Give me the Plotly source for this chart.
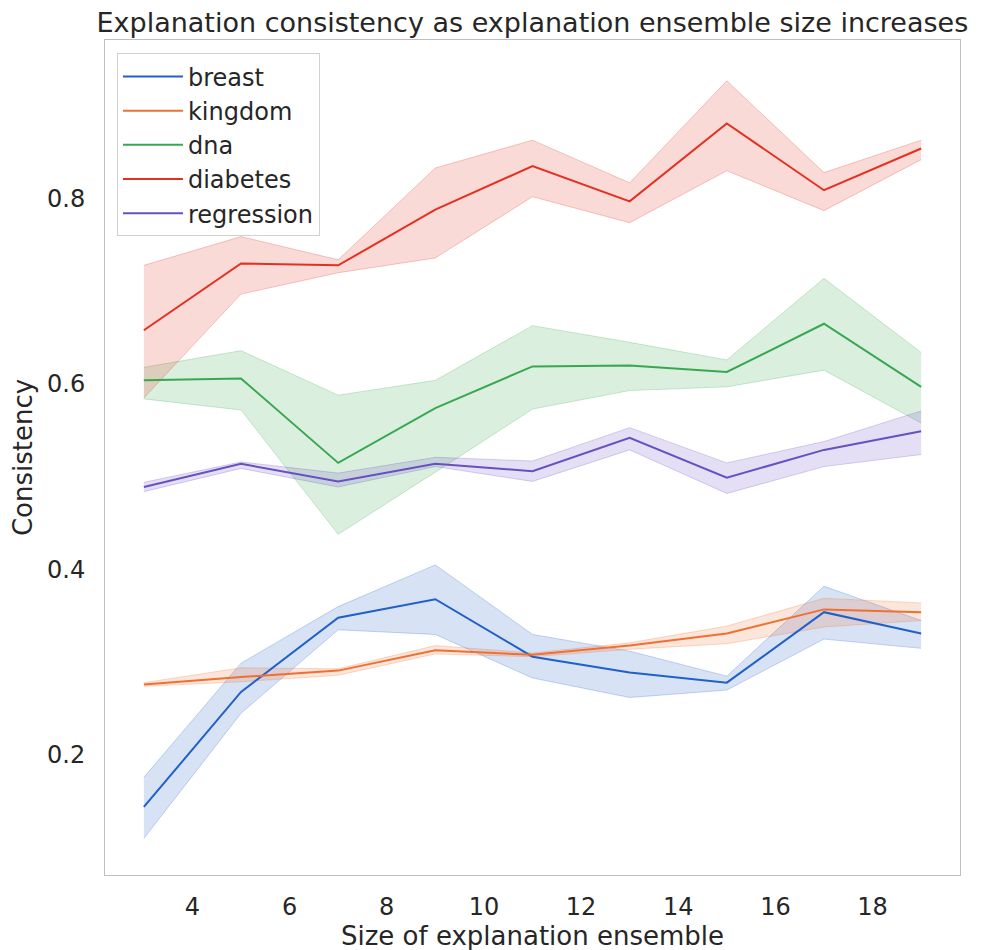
import plotly.graph_objects as go

sizes = [3, 5, 7, 9, 11, 13, 15, 17, 19]

breast_mean = [0.144, 0.268, 0.348, 0.368, 0.306, 0.289, 0.278, 0.354, 0.331]
breast_low = [0.110, 0.245, 0.335, 0.330, 0.283, 0.262, 0.270, 0.325, 0.315]
breast_high = [0.176, 0.299, 0.360, 0.405, 0.330, 0.312, 0.285, 0.382, 0.345]

kingdom_mean = [0.276, 0.284, 0.291, 0.313, 0.308, 0.318, 0.331, 0.357, 0.354]
kingdom_low = [0.274, 0.279, 0.286, 0.309, 0.306, 0.314, 0.320, 0.338, 0.345]
kingdom_high = [0.278, 0.294, 0.293, 0.318, 0.310, 0.321, 0.339, 0.369, 0.364]

dna_mean = [0.604, 0.606, 0.515, 0.574, 0.619, 0.620, 0.613, 0.665, 0.597]
dna_low = [0.584, 0.572, 0.438, 0.505, 0.573, 0.593, 0.597, 0.615, 0.558]
dna_high = [0.618, 0.636, 0.588, 0.604, 0.663, 0.645, 0.626, 0.714, 0.634]

diabetes_mean = [0.658, 0.730, 0.728, 0.788, 0.835, 0.797, 0.881, 0.809, 0.854]
diabetes_low = [0.585, 0.697, 0.720, 0.736, 0.802, 0.774, 0.830, 0.787, 0.842]
diabetes_high = [0.728, 0.759, 0.734, 0.833, 0.863, 0.817, 0.927, 0.828, 0.863]

regression_mean = [0.489, 0.514, 0.495, 0.514, 0.506, 0.542, 0.499, 0.529, 0.549]
regression_low = [0.484, 0.509, 0.489, 0.511, 0.495, 0.529, 0.482, 0.511, 0.524]
regression_high = [0.494, 0.516, 0.504, 0.521, 0.517, 0.553, 0.515, 0.538, 0.571]

series = [
    ("breast", breast_mean, breast_low, breast_high, (32, 96, 200)),
    ("kingdom", kingdom_mean, kingdom_low, kingdom_high, (240, 112, 48)),
    ("dna", dna_mean, dna_low, dna_high, (56, 168, 80)),
    ("diabetes", diabetes_mean, diabetes_low, diabetes_high, (228, 48, 32)),
    ("regression", regression_mean, regression_low, regression_high, (104, 80, 192)),
]

fig = go.Figure()
for name, mean, low, high, (r, g, b) in series:
    fig.add_trace(go.Scatter(x=sizes, y=high, mode="lines",
                             line=dict(color=f"rgba({r},{g},{b},0.25)", width=1),
                             showlegend=False, hoverinfo="skip"))
    fig.add_trace(go.Scatter(x=sizes, y=low, mode="lines", fill="tonexty",
                             fillcolor=f"rgba({r},{g},{b},0.18)",
                             line=dict(color=f"rgba({r},{g},{b},0.25)", width=1),
                             showlegend=False, hoverinfo="skip"))
for name, mean, low, high, (r, g, b) in series:
    fig.add_trace(go.Scatter(x=sizes, y=mean, mode="lines", name=name,
                             legendgroup=name,
                             line=dict(color=f"rgb({r},{g},{b})", width=2)))

font = "DejaVu Sans, Arial, sans-serif"
fig.update_layout(
    width=982, height=950,
    margin=dict(l=97, r=30, t=32, b=83),
    paper_bgcolor="white", plot_bgcolor="white",
    font=dict(family=font, color="#262626", size=24),
    title=dict(text="Explanation consistency as explanation ensemble size increases",
               x=0.534, xanchor="center", y=0.985, yanchor="middle",
               font=dict(size=27, color="#262626")),
    xaxis=dict(range=[2.2, 19.8], tickvals=[4, 6, 8, 10, 12, 14, 16, 18],
               showgrid=False, zeroline=False, showline=True, mirror=True,
               linecolor="#bfbfbf", linewidth=1, ticks="", ticklabelstandoff=10,
               title=dict(text="Size of explanation ensemble", font=dict(size=26), standoff=4),
               tickfont=dict(size=24)),
    yaxis=dict(range=[0.0706, 0.971], tickvals=[0.2, 0.4, 0.6, 0.8],
               showgrid=False, zeroline=False, showline=True, mirror=True,
               linecolor="#bfbfbf", linewidth=1, ticks="", ticklabelstandoff=14,
               title=dict(text="Consistency", font=dict(size=26), standoff=6),
               tickfont=dict(size=24)),
    legend=dict(x=0.014, y=0.984, xanchor="left", yanchor="top",
                traceorder="normal",
                bgcolor="white", bordercolor="#d0d0d0", borderwidth=1,
                font=dict(size=24), itemwidth=60, tracegroupgap=5),
)

fig.write_html("out.html")
